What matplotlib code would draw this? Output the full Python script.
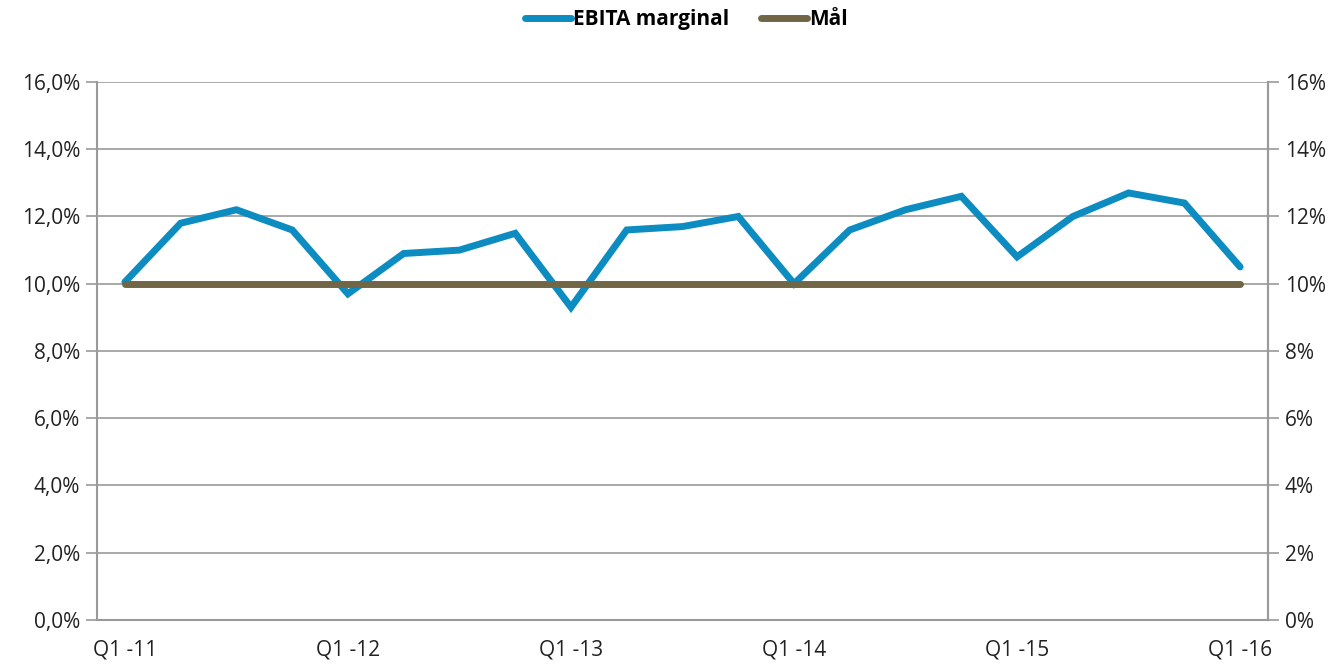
import numpy as np
import matplotlib.pyplot as plt
from matplotlib.ticker import FuncFormatter

plt.rcParams['font.family'] = ['Open Sans', 'DejaVu Sans']

# Data
quarters = ["Q1 -11", "Q2 -11", "Q3 -11", "Q4 -11",
            "Q1 -12", "Q2 -12", "Q3 -12", "Q4 -12",
            "Q1 -13", "Q2 -13", "Q3 -13", "Q4 -13",
            "Q1 -14", "Q2 -14", "Q3 -14", "Q4 -14",
            "Q1 -15", "Q2 -15", "Q3 -15", "Q4 -15",
            "Q1 -16"]
ebita = [10.05, 11.8, 12.2, 11.6,
         9.7, 10.9, 11.0, 11.5,
         9.3, 11.6, 11.7, 12.0,
         10.0, 11.6, 12.2, 12.6,
         10.8, 12.0, 12.7, 12.4,
         10.5]
goal = [10.0] * len(quarters)

blue = "#0C8CC0"
brown = "#716646"
grid_color = "#9A9A9A"

x = np.arange(len(quarters))

fig = plt.figure(figsize=(13.38, 6.65), dpi=100)
ax = fig.add_axes([0.0725, 0.0677, 0.8752, 0.809])

ax.plot(x, ebita, color=blue, linewidth=5, solid_capstyle='round',
        solid_joinstyle='miter', label="EBITA marginal", zorder=3)
ax.plot(x, goal, color=brown, linewidth=5, solid_capstyle='round',
        label="Mål", zorder=4)

ax.set_xlim(-0.5, len(quarters) - 0.5)
ax.set_ylim(0, 16)
ax.set_yticks(np.arange(0, 17, 2))
ax.yaxis.set_major_formatter(FuncFormatter(lambda v, p: f"{v:.1f}%".replace(".", ",")))
ax.grid(axis='y', color=grid_color, linewidth=1.2, zorder=0)

# only Q1 labels on the x axis
q1_idx = [i for i, q in enumerate(quarters) if q.startswith("Q1")]
ax.set_xticks(q1_idx)
ax.set_xticklabels([quarters[i] for i in q1_idx])
ax.tick_params(axis='x', length=0, pad=14, labelsize=15, colors='#222222')
ax.tick_params(axis='y', length=8, width=1.2, color=grid_color, labelsize=15,
               labelcolor='#222222', pad=4)

ax.spines['top'].set_visible(False)
for side in ['left', 'right', 'bottom']:
    ax.spines[side].set_color(grid_color)
    ax.spines[side].set_linewidth(1.5)

# secondary axis on the right
ax2 = ax.twinx()
ax2.set_ylim(0, 16)
ax2.set_yticks(np.arange(0, 17, 2))
ax2.yaxis.set_major_formatter(FuncFormatter(lambda v, p: f"{v:.0f}%"))
ax2.tick_params(axis='y', length=8, width=1.2, color=grid_color, labelsize=15,
                labelcolor='#222222', pad=4)
for side in ['top', 'left', 'bottom']:
    ax2.spines[side].set_visible(False)
ax2.spines['right'].set_color(grid_color)
ax2.spines['right'].set_linewidth(1.5)

fig.legend(loc='upper center', bbox_to_anchor=(0.513, 1.014), ncol=2,
           frameon=False, prop={'weight': 'bold', 'size': 15},
           handlelength=2.2, handletextpad=0.1, columnspacing=1.5)

plt.savefig("out.png", dpi=100)
